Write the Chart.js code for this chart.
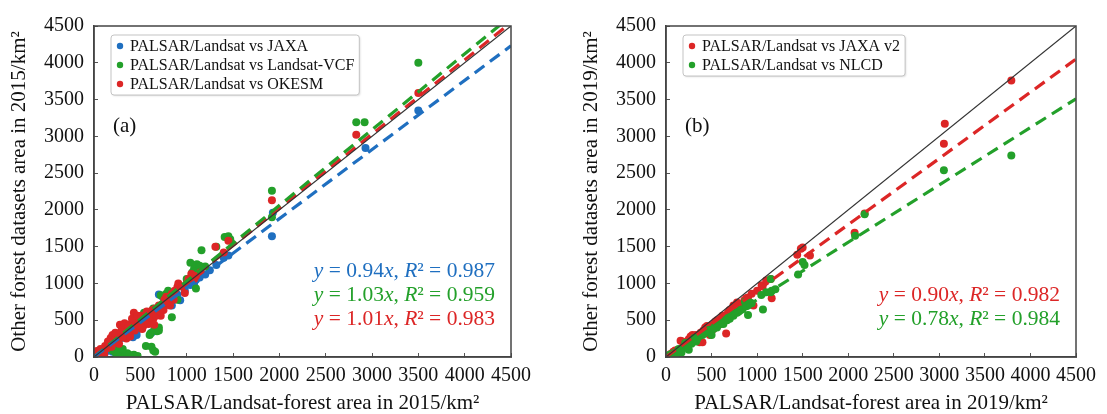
<!DOCTYPE html>
<html>
<head>
<meta charset="utf-8">
<script src="https://cdn.jsdelivr.net/npm/chart.js@4.4.1/dist/chart.umd.min.js"></script>
<style>
  html, body { margin: 0; padding: 0; background: #fff; }
  body { width: 1107px; height: 414px; position: relative; overflow: hidden; }
  .panel { position: absolute; top: 0; height: 414px; }
  #panelA { left: 0; width: 553px; }
  #panelB { left: 572px; width: 535px; }
</style>
</head>
<body>
<div class="panel" id="panelA"><canvas id="chartA"></canvas></div>
<div class="panel" id="panelB"><canvas id="chartB"></canvas></div>
<script>
// ---- data (km²) ----
const jaxa2015 = [
  [30, 20], [60, 50], [90, 80], [120, 60], [150, 100], [180, 90], [200, 70], [230, 180],
  [260, 250], [300, 260], [330, 310], [380, 300], [420, 270], [460, 350], [480, 400],
  [520, 470], [560, 500], [600, 520], [640, 590], [680, 620], [700, 850], [720, 640],
  [760, 700], [800, 740], [840, 700], [880, 800], [930, 770], [980, 900], [1040, 980],
  [1080, 1000], [1140, 1080], [1200, 1120], [1320, 1250], [1400, 1350], [1450, 1380],
  [1920, 1640], [1930, 1960], [2930, 2840], [3500, 3350], [260, 30], [300, 60],
  [460, 300], [620, 330], [740, 820], [900, 850], [1100, 1050], [1250, 1180]
];
const vcf2015 = [
  [60, 40], [100, 80], [200, 90], [230, 60], [260, 100], [280, 40], [300, 80], [330, 20],
  [360, 50], [400, 10], [430, 30], [470, 15], [420, 480], [480, 520], [540, 600], [560, 560],
  [560, 150], [600, 300], [610, 320], [620, 140], [640, 90], [660, 70], [650, 370], [680, 350],
  [640, 660], [700, 400], [720, 620], [760, 700], [800, 900], [840, 540], [870, 880],
  [900, 780], [1040, 1280], [1080, 1200], [1100, 930], [1110, 1260], [1160, 1450],
  [1200, 1230], [1320, 1500], [1410, 1630], [1450, 1640], [1470, 1600], [1920, 2260],
  [1920, 1900], [2830, 3190], [2920, 3190], [3500, 4000], [250, 20], [310, 110],
  [380, 30], [700, 360], [720, 840], [780, 860], [1000, 1060], [1060, 1150], [1140, 1240]
];
const okesm2015 = [
  [20, 30], [40, 60], [60, 40], [80, 90], [100, 70], [120, 150], [140, 120], [160, 180],
  [180, 260], [200, 300], [220, 230], [240, 200], [260, 280], [280, 440], [300, 380],
  [320, 420], [340, 330], [350, 250], [360, 300], [380, 360], [400, 450], [420, 410],
  [430, 600], [450, 520], [480, 480], [500, 500], [520, 380], [540, 430], [560, 560],
  [580, 520], [600, 600], [620, 480], [640, 520], [660, 660], [680, 600], [700, 700],
  [720, 560], [740, 720], [760, 780], [780, 820], [800, 800], [820, 700], [840, 860],
  [860, 780], [900, 950], [910, 1000], [980, 870], [1000, 1000], [1050, 1130], [1100, 1100],
  [1150, 1150], [1310, 1500], [1400, 1420], [1450, 1580], [1920, 2130], [2830, 3020],
  [3500, 3590], [30, 80], [70, 110], [110, 40], [150, 210], [190, 140], [230, 330],
  [270, 180], [290, 340], [310, 270], [330, 460], [370, 420], [390, 280], [410, 520],
  [440, 360], [470, 560], [490, 420], [510, 560], [550, 490], [570, 620], [590, 450],
  [610, 540], [630, 640], [650, 440], [670, 560], [690, 650], [710, 620], [730, 680],
  [750, 640], [790, 740], [830, 800], [870, 900], [950, 960], [1020, 1060], [1080, 1060]
];
const jaxa2019 = [
  [20, 15], [50, 40], [80, 70], [100, 90], [130, 100], [160, 220], [200, 180], [250, 240],
  [290, 300], [320, 250], [350, 230], [380, 330], [400, 200], [430, 400], [460, 380],
  [500, 430], [520, 380], [560, 500], [600, 520], [640, 560], [660, 320], [680, 600],
  [720, 600], [760, 680], [800, 720], [820, 650], [860, 770], [900, 810], [960, 700],
  [1000, 900], [1050, 975], [1060, 960], [1100, 1040], [1150, 1060], [1160, 800],
  [1440, 1390], [1480, 1470], [1500, 1490], [1580, 1380], [2070, 1690], [2180, 1950],
  [3050, 2900], [3060, 3170], [3790, 3760], [180, 210], [230, 150], [270, 280], [330, 300],
  [370, 200], [410, 360], [450, 420], [480, 300], [540, 480], [580, 440], [620, 560],
  [700, 640], [740, 700], [780, 740], [840, 700], [880, 800], [940, 860]
];
const nlcd2019 = [
  [20, 10], [40, 30], [60, 40], [80, 50], [100, 60], [130, 80], [150, 70], [180, 120],
  [200, 150], [230, 180], [250, 100], [260, 200], [300, 230], [330, 210], [360, 280],
  [400, 300], [440, 340], [480, 370], [500, 300], [540, 420], [560, 400], [600, 450],
  [620, 480], [650, 500], [680, 530], [700, 520], [740, 560], [760, 600], [800, 620],
  [840, 650], [866, 750], [900, 570], [900, 700], [940, 730], [1046, 842], [1064, 645],
  [1100, 880], [1150, 880], [1150, 1060], [1160, 900], [1200, 920], [1450, 1120],
  [1500, 1290], [1520, 1250], [2075, 1650], [2180, 1940], [3050, 2540], [3790, 2740],
  [110, 40], [140, 110], [170, 60], [210, 190], [240, 130], [280, 180], [310, 260],
  [340, 240], [380, 310], [420, 320], [460, 360], [520, 380], [570, 450], [590, 480],
  [630, 450], [670, 500], [720, 580], [780, 600], [820, 640], [880, 690], [920, 740]
];

const namesA = ['PALSAR/Landsat vs JAXA', 'PALSAR/Landsat vs Landsat-VCF', 'PALSAR/Landsat vs OKESM'];
const slopesA = [0.94, 1.03, 1.01];
const r2A = [0.987, 0.959, 0.983];
const namesB = ['PALSAR/Landsat vs JAXA v2', 'PALSAR/Landsat vs NLCD'];
const slopesB = [0.90, 0.78];
const r2B = [0.982, 0.984];

const axisMax = 4500;
const axisStep = 500;

const BLUE = '#1f6fc0';
const GREEN = '#23a02a';
const RED = '#dc2626';
const SERIF = '"Liberation Serif", "Times New Roman", serif';

const toPts = arr => arr.map(p => ({ x: p[0], y: p[1] }));

// frame, legend box, panel tag and fit equations
const panelDecor = {
  id: 'panelDecor',
  afterDraw(chart, args, opts) {
    const { ctx, chartArea: ca } = chart;
    ctx.save();
    ctx.strokeStyle = '#444';
    ctx.lineWidth = 1.5;
    ctx.strokeRect(ca.left, ca.top, ca.right - ca.left, ca.bottom - ca.top);

    // legend
    const rows = opts.legend;
    ctx.font = '16px ' + SERIF;
    let maxW = 0;
    rows.forEach(r => { maxW = Math.max(maxW, ctx.measureText(r.text).width); });
    const bx = ca.left + 17, by = ca.top + 9;
    const bw = 19 + maxW + 5, bh = 19 * rows.length + 3;
    ctx.shadowColor = 'rgba(0,0,0,0.15)';
    ctx.shadowBlur = 2;
    ctx.shadowOffsetX = 1;
    ctx.shadowOffsetY = 1;
    ctx.fillStyle = '#fff';
    ctx.beginPath();
    ctx.roundRect(bx, by, bw, bh, 3);
    ctx.fill();
    ctx.shadowColor = 'transparent';
    ctx.strokeStyle = '#c4c4c4';
    ctx.lineWidth = 1;
    ctx.stroke();
    ctx.textBaseline = 'middle';
    rows.forEach((r, i) => {
      const cy = ca.top + 20 + i * 19;
      ctx.fillStyle = r.color;
      ctx.beginPath();
      ctx.arc(ca.left + 26, cy, 3.2, 0, Math.PI * 2);
      ctx.fill();
      ctx.fillStyle = '#111';
      ctx.fillText(r.text, ca.left + 36, cy + 1);
    });

    // panel tag
    ctx.font = '21px ' + SERIF;
    ctx.fillStyle = '#111';
    ctx.fillText(opts.tag, ca.left + 19, ca.top + 100);

    // fit equations, right aligned, last line at bottom - 38
    const n = opts.fits.length;
    opts.fits.forEach((f, i) => {
      const parts = [
        ['y', true], [' = ' + f.slope.toFixed(2), false], ['x', true], [', ', false],
        ['R', true], ['\u00B2 = ' + f.r2.toFixed(3), false]
      ];
      const fontOf = it => (it ? 'italic ' : '') + '21.5px ' + SERIF;
      let total = 0;
      parts.forEach(p => { ctx.font = fontOf(p[1]); total += ctx.measureText(p[0]).width; });
      let x = ca.right - 16 - total;
      const y = ca.bottom - 38 - (n - 1 - i) * 24;
      ctx.fillStyle = f.color;
      parts.forEach(p => {
        ctx.font = fontOf(p[1]);
        ctx.fillText(p[0], x, y);
        x += ctx.measureText(p[0]).width;
      });
    });
    ctx.restore();
  }
};

function axisOpts(title, isX) {
  return {
    type: 'linear',
    min: 0,
    max: axisMax,
    ticks: {
      stepSize: axisStep,
      autoSkip: false,
      maxRotation: 0,
      color: '#111',
      padding: isX ? 11 : 14,
      font: { family: SERIF, size: 20 },
      callback: v => String(v)
    },
    grid: { drawOnChartArea: false, tickLength: -4, color: '#555', lineWidth: 1 },
    border: { display: true, color: '#444', width: 1.5 },
    title: {
      display: true,
      text: title,
      color: '#111',
      font: { family: SERIF, size: 21, lineHeight: 1 },
      padding: isX ? { top: 0, bottom: 0 } : { top: 8.5, bottom: 0 }
    },
    afterFit: s => { if (isX) s.height = 57; else s.width = 94; }
  };
}

function makeChart(id, year, series, slopes, r2s, tag, rightPad) {
  const datasets = [{
    type: 'line',
    data: [{ x: 0, y: 0 }, { x: axisMax, y: axisMax }],
    borderColor: '#333',
    borderWidth: 1.2,
    pointRadius: 0,
    order: 0
  }];
  series.forEach((s, i) => {
    datasets.push({
      type: 'line',
      data: [{ x: 0, y: 0 }, { x: axisMax, y: slopes[i] * axisMax }],
      borderColor: s.color,
      borderWidth: 3.2,
      borderDash: [12, 7],
      pointRadius: 0,
      order: 1
    });
    datasets.push({
      type: 'scatter',
      label: s.name,
      data: toPts(s.points),
      pointRadius: 4,
      pointBackgroundColor: s.color,
      pointBorderWidth: 0,
      order: s.order
    });
  });
  return new Chart(document.getElementById(id), {
    data: { datasets },
    options: {
      responsive: true,
      maintainAspectRatio: false,
      animation: false,
      layout: { padding: { left: 0, top: 17.5, right: rightPad, bottom: 0 } },
      scales: {
        x: axisOpts('PALSAR/Landsat-forest area in ' + year + '/km\u00B2', true),
        y: axisOpts('Other forest datasets area in ' + year + '/km\u00B2', false)
      },
      plugins: {
        legend: { display: false },
        tooltip: { enabled: false },
        panelDecor: {
          tag,
          legend: series.map(s => ({ text: s.name, color: s.color })),
          fits: series.map((s, i) => ({ slope: slopes[i], r2: r2s[i], color: s.color }))
        }
      }
    },
    plugins: [panelDecor]
  });
}

makeChart('chartA', 2015, [
  { name: namesA[0], color: BLUE, points: jaxa2015, order: 4 },
  { name: namesA[1], color: GREEN, points: vcf2015, order: 3 },
  { name: namesA[2], color: RED, points: okesm2015, order: 2 }
], slopesA, r2A, '(a)', 42);

makeChart('chartB', 2019, [
  { name: namesB[0], color: RED, points: jaxa2019, order: 3 },
  { name: namesB[1], color: GREEN, points: nlcd2019, order: 2 }
], slopesB, r2B, '(b)', 26);
</script>
</body>
</html>
